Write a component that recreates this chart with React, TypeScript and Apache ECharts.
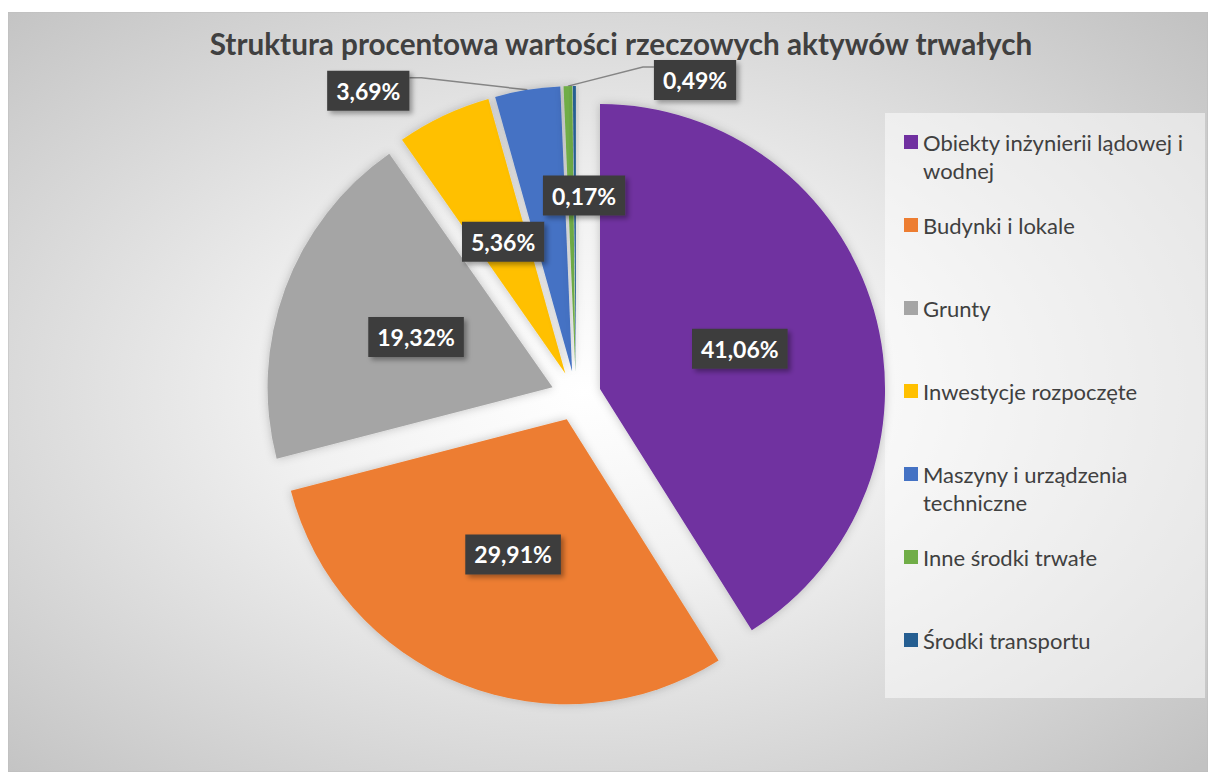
import React, { useEffect, useRef } from "react";
import * as echarts from "echarts";

const titleText = "Struktura procentowa wartości rzeczowych aktywów trwałych";
const categories = [
  "Obiekty inżynierii lądowej i wodnej",
  "Budynki i lokale",
  "Grunty",
  "Inwestycje rozpoczęte",
  "Maszyny i urządzenia techniczne",
  "Inne środki trwałe",
  "Środki transportu",
];
const legendText = [
  "Obiekty inżynierii lądowej i\nwodnej",
  "Budynki i lokale\n ",
  "Grunty\n ",
  "Inwestycje rozpoczęte\n ",
  "Maszyny i urządzenia\ntechniczne",
  "Inne środki trwałe\n ",
  "Środki transportu\n ",
];
const shares = [41.06, 29.91, 19.32, 5.36, 3.69, 0.49, 0.17];
const colors = ["#7030a0", "#ed7d31", "#a5a5a5", "#ffc000", "#4472c4", "#70ad47", "#255e91"];
const labelPositions = ["inside", "inside", "inside", "inside", "outside", "outside", "inside"];

const FONT = "Lato, 'Open Sans', sans-serif";

export default function App() {
  const ref = useRef<HTMLDivElement>(null);
  useEffect(() => {
    if (!ref.current) return;
    const chart = echarts.init(ref.current, null, { renderer: "svg" });
    const labelBase = {
      color: "#ffffff",
      fontWeight: "bold",
      fontSize: 23,
      lineHeight: 24,
      fontFamily: FONT,
      backgroundColor: "#3d3d3d",
      padding: [8, 9, 8, 9],
      shadowBlur: 5,
      shadowOffsetX: 3,
      shadowOffsetY: 3,
      shadowColor: "rgba(0,0,0,0.35)",
      formatter: (p: any) => p.value.toFixed(2).replace(".", ",") + "%",
    };
    const data = categories.map((name, i) => ({
      name,
      value: shares[i],
      selected: true,
      label: { ...labelBase, position: labelPositions[i] },
      labelLine: {
        show: labelPositions[i] === "outside",
        length: 10,
        length2: 105,
        lineStyle: { color: "#858585", width: 1.5 },
      },
    }));
    chart.setOption({
      animation: false,
      color: colors,
      title: {
        text: titleText,
        left: 608,
        textAlign: "center",
        top: 11,
        textStyle: { color: "#404040", fontSize: 29.7, fontWeight: "bold", fontFamily: FONT },
      },
      graphic: [
        {
          type: "rect",
          z: -10,
          shape: { x: 0, y: 0, width: 1200, height: 760 },
          style: {
            fill: {
              type: "radial",
              x: 0.48,
              y: 0.5,
              r: 0.71,
              colorStops: [
                { offset: 0, color: "#ffffff" },
                { offset: 0.35, color: "#f1f1f1" },
                { offset: 1, color: "#c2c2c2" },
              ],
            },
            stroke: "#bdbdbd",
            lineWidth: 1,
          },
        },
        {
          type: "rect",
          z: -5,
          shape: { x: 877, y: 101, width: 320, height: 585 },
          style: { fill: "rgba(255,255,255,0.5)" },
        },
      ],
      legend: {
        orient: "vertical",
        left: 891,
        top: 111,
        itemWidth: 14,
        itemHeight: 56,
        itemGap: 27,
        icon: "path://M0,7h14v14h-14zM0,0M0,56",
        data: categories,
        formatter: (name: string) => legendText[categories.indexOf(name)],
        textStyle: { color: "#404040", fontSize: 22, lineHeight: 28, fontFamily: FONT },
        selectedMode: false,
      },
      series: [
        {
          type: "pie",
          center: [568, 384],
          radius: [0, 285],
          startAngle: 90,
          clockwise: true,
          selectedMode: "multiple",
          selectedOffset: 25,
          avoidLabelOverlap: false,
          itemStyle: { shadowBlur: 10, shadowColor: "rgba(0,0,0,0.22)" },
          select: { itemStyle: { borderWidth: 0 } },
          emphasis: { scale: false },
          labelLayout: (p: any) => {
            const pts = p.labelLinePoints;
            const r = p.labelRect;
            if (p.dataIndex === 5 && pts) {
              const p0 = pts[0];
              const p2 = pts[pts.length - 1];
              return {
                dx: p0[0] - p2[0] + r.width + 91,
                dy: p0[1] - p2[1] - 6,
                labelLinePoints: [
                  [p0[0], p0[1]],
                  [p0[0] + 75, p0[1] - 19],
                  [p0[0] + 86, p0[1] - 19],
                ],
              };
            }
            if (p.dataIndex === 4 && pts) {
              const p0 = pts[0];
              const p2 = pts[pts.length - 1];
              return {
                dx: p0[0] - p2[0] - 113,
                dy: p0[1] - p2[1] + 1,
                labelLinePoints: [
                  [p0[0], p0[1]],
                  [p0[0] - 106, p0[1] - 12],
                  [p0[0] - 118, p0[1] - 12],
                ],
              };
            }
            if (p.dataIndex === 6) {
              return { dx: 9, dy: -30 };
            }
            return {};
          },
          data,
        },
      ],
    });
    return () => chart.dispose();
  }, []);
  return (
    <div
      ref={ref}
      style={{ position: "absolute", left: 8, top: 12, width: 1200, height: 760 }}
    />
  );
}
